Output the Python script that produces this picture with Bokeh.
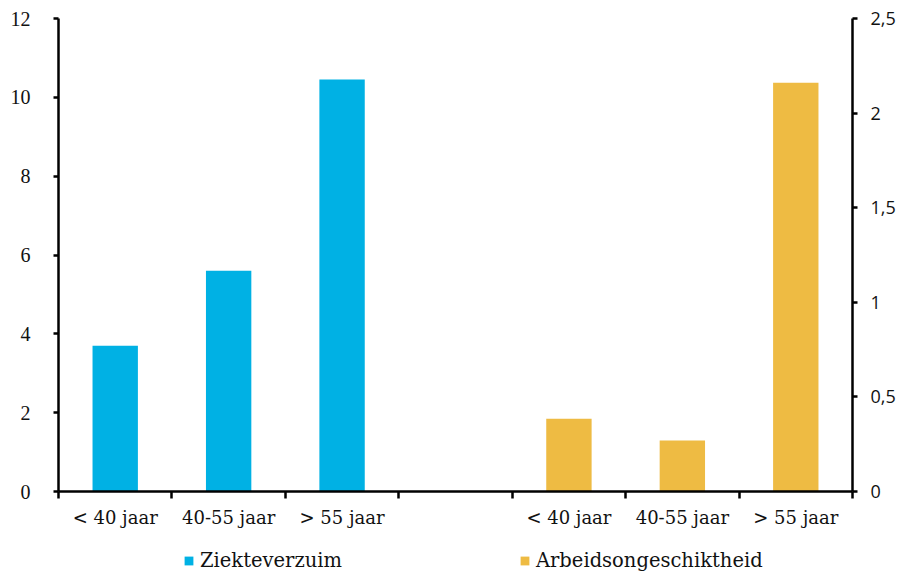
from bokeh.plotting import figure
from bokeh.layouts import column
from bokeh.models import (Range1d, LinearAxis, FixedTicker, Legend, LegendItem)
from bokeh.embed import file_html
from bokeh.resources import INLINE

# Age groups, shown once per indicator
groups = ["< 40 jaar", "40-55 jaar", "> 55 jaar"]
# Sick leave (left axis)
ziekteverzuim = [3.7, 5.6, 10.45]
# Work disability (right axis)
arbeidsongeschiktheid = [0.385, 0.27, 2.16]

left_ticks = [0, 2, 4, 6, 8, 10, 12]
right_ticks = [0, 0.5, 1, 1.5, 2, 2.5]
right_labels = ["0", "0,5", "1", "1,5", "2", "2,5"]

BLUE = "#00B1E4"
YELLOW = "#EEBB43"
SANS = "Open Sans"
SERIF = "Liberation Serif"
SLAB = "DejaVu Serif"

n_slots = 2 * len(groups) + 1
x_blue = [i + 0.5 for i in range(len(groups))]
x_yellow = [len(groups) + 1 + i + 0.5 for i in range(len(groups))]

p = figure(width=905, height=535, output_backend="svg", toolbar_location=None,
           x_range=Range1d(0, n_slots), y_range=Range1d(0, 12),
           min_border_left=58, min_border_right=53, min_border_top=18,
           min_border_bottom=44)
p.extra_y_ranges = {"right": Range1d(0, 2.5)}
p.outline_line_color = None
p.grid.visible = False
p.background_fill_color = "white"
p.border_fill_color = "white"

p.vbar(x=x_blue, top=ziekteverzuim, width=0.4, color=BLUE, line_color=None)
p.vbar(x=x_yellow, top=arbeidsongeschiktheid, width=0.4, color=YELLOW,
       line_color=None, y_range_name="right")

def style_axis(ax):
    ax.axis_line_width = 2.5
    ax.axis_line_color = "black"
    ax.major_tick_line_width = 2.5
    ax.minor_tick_line_width = 2.5
    ax.major_tick_line_color = "black"
    ax.major_tick_in = 0
    ax.major_tick_out = 5
    ax.minor_tick_in = 0
    ax.minor_tick_out = 0
    ax.major_label_text_color = "#111111"

# x axis: labels centred on slots, ticks on slot boundaries
xax = p.xaxis[0]
style_axis(xax)
xax.ticker = FixedTicker(ticks=x_blue + x_yellow, minor_ticks=list(range(n_slots + 1)))
overrides = {}
for xv, g in zip(x_blue, groups):
    overrides[xv] = g
for xv, g in zip(x_yellow, groups):
    overrides[xv] = g
xax.major_label_overrides = overrides
xax.major_tick_out = 0
xax.minor_tick_out = 7
xax.minor_tick_line_color = "black"
xax.major_label_text_font = SLAB
xax.major_label_text_font_size = "18px"
xax.major_label_standoff = 8

yax = p.yaxis[0]
style_axis(yax)
yax.ticker = FixedTicker(ticks=left_ticks, minor_ticks=[])
yax.major_label_text_font = SERIF
yax.major_label_text_font_size = "20px"
yax.major_label_standoff = 23

rax = LinearAxis(y_range_name="right")
style_axis(rax)
rax.ticker = FixedTicker(ticks=right_ticks, minor_ticks=[])
rax.major_label_overrides = {t: l for t, l in zip(right_ticks, right_labels)}
rax.major_label_text_font = SANS
rax.major_label_text_font_size = "18px"
rax.major_label_standoff = 13
p.add_layout(rax, "right")

# Legend strip underneath the chart; its proxy bars have zero height
lg = figure(width=905, height=43, output_backend="svg", toolbar_location=None,
            x_range=Range1d(0, 1), y_range=Range1d(0, 1),
            x_axis_location=None, y_axis_location=None,
            min_border_left=0, min_border_right=0, min_border_top=0,
            min_border_bottom=0)
lg.grid.visible = False
lg.outline_line_color = None
lg.background_fill_color = None
lg.border_fill_color = None
lg_blue = lg.vbar(x=[0.5], top=[0], bottom=[0], width=0.01, color=BLUE, line_color=None)
lg_yellow = lg.vbar(x=[0.5], top=[0], bottom=[0], width=0.01, color=YELLOW, line_color=None)

legend = Legend(items=[LegendItem(label="Ziekteverzuim", renderers=[lg_blue]),
                       LegendItem(label="Arbeidsongeschiktheid", renderers=[lg_yellow])],
                orientation="horizontal", location=(125, 6),
                label_text_font=SLAB, label_text_font_size="19.5px",
                label_text_color="#111111",
                glyph_width=11, glyph_height=11, spacing=177, label_standoff=6,
                border_line_color=None, background_fill_alpha=0, padding=0,
                margin=0)
lg.add_layout(legend, "center")

layout = column(p, lg, spacing=0)
open("out.html", "w").write(file_html(layout, INLINE))
